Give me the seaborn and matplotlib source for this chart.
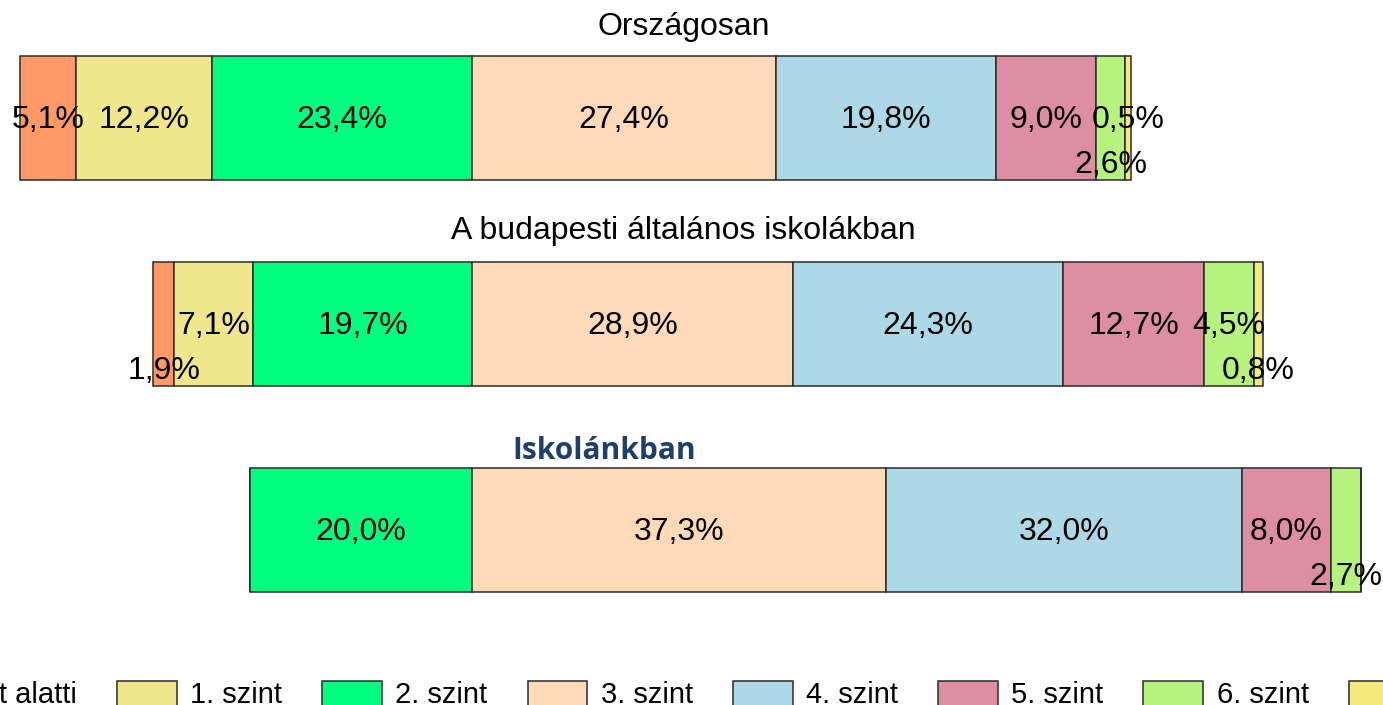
import numpy as np
import matplotlib.pyplot as plt
import seaborn as sns

# ---- data ----
levels = ["1. szint alatti", "1. szint", "2. szint", "3. szint",
          "4. szint", "5. szint", "6. szint", "7. szint"]
groups = ["Országosan", "A budapesti általános iskolákban", "Iskolánkban"]
orszagos = [5.1, 12.2, 23.4, 27.4, 19.8, 9.0, 2.6, 0.5]
budapest = [1.9, 7.1, 19.7, 28.9, 24.3, 12.7, 4.5, 0.8]
iskola = [0.0, 0.0, 20.0, 37.3, 32.0, 8.0, 2.7, 0.0]

colors = ["#FF9966", "#F0E68C", "#00FF7F", "#FFDAB9",
          "#ADD8E6", "#DD8EA0", "#B5F27E", "#F2EA7A"]

sns.set_theme(style="white")
plt.rcParams['font.family'] = ['Liberation Sans', 'DejaVu Sans']
plt.rcParams['text.color'] = 'black'

values = np.array([orszagos, budapest, iskola])
# bars are aligned on the 2./3. szint boundary
starts = np.cumsum(values, axis=1) - values - values[:, :3].sum(axis=1, keepdims=True)
rows = np.arange(len(groups))

fig = plt.figure(figsize=(13.83, 7.05), dpi=100)
ax = fig.add_axes([0, 0, 1, 1])

handles = []
for j, lev in enumerate(levels):
    bars = ax.barh(rows, values[:, j], left=starts[:, j], height=0.6,
                   color=colors[j], edgecolor="#2b2b2b", linewidth=1.1, label=lev)
    handles.append(bars)

# labels of small segments that are pushed down
lowered = {(0, 6), (1, 0), (1, 7), (2, 6)}
for i in rows:
    for j in range(len(levels)):
        v = values[i, j]
        if v <= 0:
            continue
        y = i + 0.012 + (0.215 if (i, j) in lowered else 0)
        ax.text(starts[i, j] + v / 2, y, f"{v:.1f}%".replace(".", ","),
                ha="center", va="center", fontsize=23, color="black")

# titles
ax.text(19.1, 0 - 0.44, groups[0], ha="center", va="center", fontsize=23)
ax.text(19.0, 1 - 0.45, groups[1], ha="center", va="center", fontsize=23)
ax.text(11.9, 2 - 0.385, groups[2], ha="center", va="center", fontsize=21.5,
        fontweight="bold", color="#1F3F6B", family=["Open Sans", "DejaVu Sans"])

ax.set_xlim(-42.48, 82.0)
ax.set_ylim(2.85, -0.573)
ax.axis("off")

fig.legend(handles, levels, loc="upper center", bbox_to_anchor=(678 / 1383, 1 - 666 / 705),
           ncol=8, frameon=False, borderpad=0, fontsize=21, handlelength=2.05,
           handleheight=0.95, handletextpad=0.46, columnspacing=1.37)

fig.savefig("out.png", dpi=100)
